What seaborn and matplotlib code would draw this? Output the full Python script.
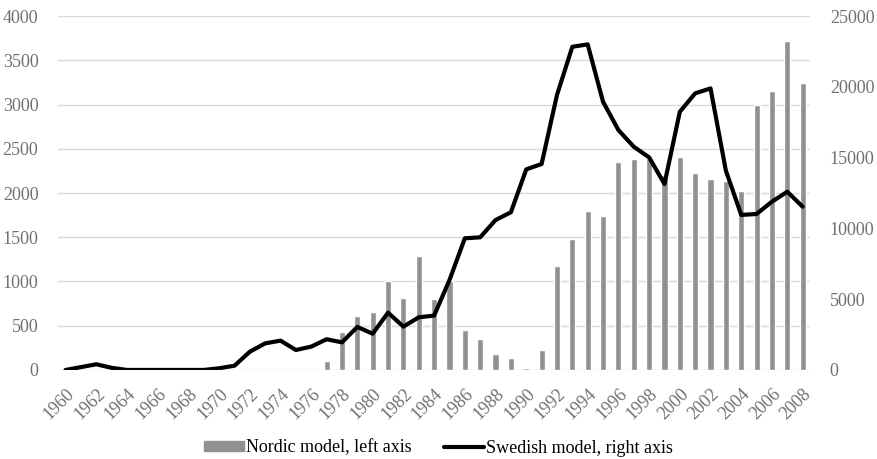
import numpy as np
import pandas as pd
import seaborn as sns
import matplotlib.pyplot as plt
from matplotlib.patches import Patch
from matplotlib.lines import Line2D

sns.set_style("white")
plt.rcParams['font.family'] = ['Liberation Serif', 'DejaVu Serif']

years = list(range(1960, 2009))

# Nordic model (left axis), bars
nordic = [0, 0, 0, 0, 0, 0, 0, 0, 0, 0,
          0, 0, 0, 0, 0, 0, 0, 100, 430, 615,
          655, 1000, 810, 1285, 805, 1000, 450, 355, 175, 130,
          25, 225, 1180, 1480, 1800, 1735, 2355, 2385, 2395, 2200,
          2410, 2225, 2155, 2140, 2025, 3000, 3155, 3720, 3240]

# Swedish model (right axis), line
swedish = [0, 200, 400, 150, 0, 0, 0, 0, 0, 0,
           120, 300, 1290, 1880, 2070, 1410, 1650, 2170, 1950, 3040,
           2560, 4050, 3060, 3720, 3840, 6350, 9300, 9370, 10590, 11140,
           14170, 14550, 19420, 22830, 23000, 18950, 16950, 15770, 15020, 13135,
           18240, 19540, 19890, 14075, 10950, 11020, 11890, 12590, 11530]

df = pd.DataFrame({'year': [str(y) for y in years], 'nordic': nordic,
                   'swedish': swedish, 'pos': np.arange(len(years))})

bar_color = '#919191'
text_color = '#707070'

fig = plt.figure(figsize=(8.77, 4.59), dpi=100)
ax = fig.add_axes([0.066, 0.194, 0.858, 0.771])

sns.barplot(data=df, x='year', y='nordic', color=bar_color, width=0.4,
            saturation=1, ax=ax, zorder=2)
ax.set_ylim(0, 4000)
ax.set_yticks(np.arange(0, 4001, 500))
ax.set_xlim(-0.5, len(years) - 0.5)
ax.grid(axis='y', color='#d9d9d9', linewidth=1, zorder=0)
ax.set_axisbelow(True)
ax.set_xlabel('')
ax.set_ylabel('')

ax2 = ax.twinx()
sns.lineplot(data=df, x='pos', y='swedish', color='black', linewidth=3,
             ax=ax2)
ax2.set_ylim(0, 25000)
ax2.set_yticks(np.arange(0, 25001, 5000))
ax2.set_xlim(-0.5, len(years) - 0.5)
ax2.set_xlabel('')
ax2.set_ylabel('')

ax.set_xticks(np.arange(0, len(years), 2))
ax.set_xticklabels([str(y) for y in years[::2]], rotation=45, ha='right',
                   rotation_mode='anchor')

for a in (ax, ax2):
    for s in a.spines.values():
        s.set_visible(False)
    a.tick_params(length=0, labelsize=13, colors=text_color)
ax.tick_params(axis='y', pad=14)
ax2.tick_params(axis='y', pad=14)
ax.tick_params(axis='x', pad=11)

handles = [Patch(color=bar_color), Line2D([0], [0], color='black', linewidth=3)]
fig.legend(handles, ['Nordic model, left axis', 'Swedish model, right axis'],
           loc='lower center', bbox_to_anchor=(0.5, -0.03), ncol=2, frameon=False,
           fontsize=13, handlelength=2.2, handleheight=0.45, handletextpad=0.1,
           columnspacing=1.8, labelcolor='black')

fig.savefig('out.png', dpi=100)
